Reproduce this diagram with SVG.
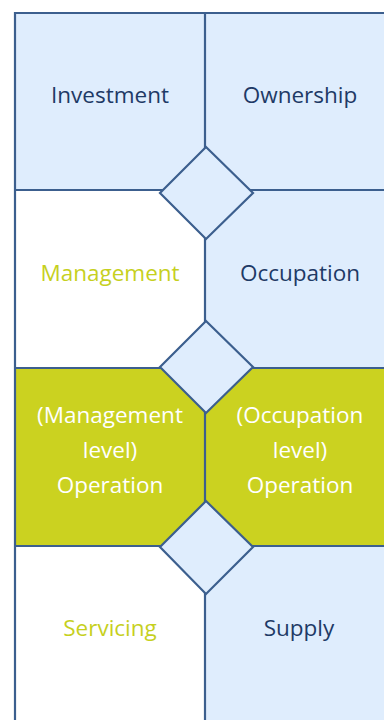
<svg xmlns="http://www.w3.org/2000/svg" width="384" height="720" viewBox="0 0 384 720">
<style>
.cell{stroke:none}
.blue{fill:#DFEDFD}
.white{fill:#FFFFFF}
.green{fill:#CBD220}
.ln{stroke:#3C5F8E;stroke-width:2.2;fill:none}
.dia{fill:#DFEDFD;stroke:#3C5F8E;stroke-width:2.2}
text{font-family:"Open Sans","Noto Sans",sans-serif;font-size:22.5px;text-anchor:middle}
.tb{fill:#1E3A66}
.tg{fill:#C6D01E}
.tw{fill:#FFFFFF}
</style>
<rect width="384" height="720" fill="#FFFFFF"/>
<g id="investment"><rect class="cell blue" x="15" y="13" width="190" height="177"/><text class="tb" x="110" y="103">Investment</text></g>
<g id="ownership"><rect class="cell blue" x="205" y="13" width="179" height="177"/><text class="tb" x="300" y="103">Ownership</text></g>
<g id="management"><rect class="cell white" x="15" y="190" width="190" height="178"/><text class="tg" x="110" y="281">Management</text></g>
<g id="occupation"><rect class="cell blue" x="205" y="190" width="179" height="178"/><text class="tb" x="300" y="281">Occupation</text></g>
<g id="mgmt-operation"><rect class="cell green" x="15" y="368" width="190" height="178"/><text class="tw" x="110"><tspan x="110" y="423">(Management</tspan><tspan x="110" y="458">level)</tspan><tspan x="110" y="493">Operation</tspan></text></g>
<g id="occ-operation"><rect class="cell green" x="205" y="368" width="179" height="178"/><text class="tw" x="300"><tspan x="300" y="423">(Occupation</tspan><tspan x="300" y="458">level)</tspan><tspan x="300" y="493">Operation</tspan></text></g>
<g id="servicing"><rect class="cell white" x="15" y="546" width="190" height="174"/><text class="tg" x="110" y="636">Servicing</text></g>
<g id="supply"><rect class="cell blue" x="205" y="546" width="179" height="174"/><text class="tb" x="299" y="636">Supply</text></g>
<g id="connectors">
<path class="ln" d="M15,13H384M15,12V720M205,12V720M15,190H384M15,368H384M15,546H384"/>
</g>
<g id="diamond1"><polygon class="dia" points="206,147 253,193 206,239 160,193"/></g>
<g id="diamond2"><polygon class="dia" points="206,321 253,367 206,413 160,367"/></g>
<g id="diamond3"><polygon class="dia" points="206,501 253,547 206,594 160,547"/></g>
</svg>
